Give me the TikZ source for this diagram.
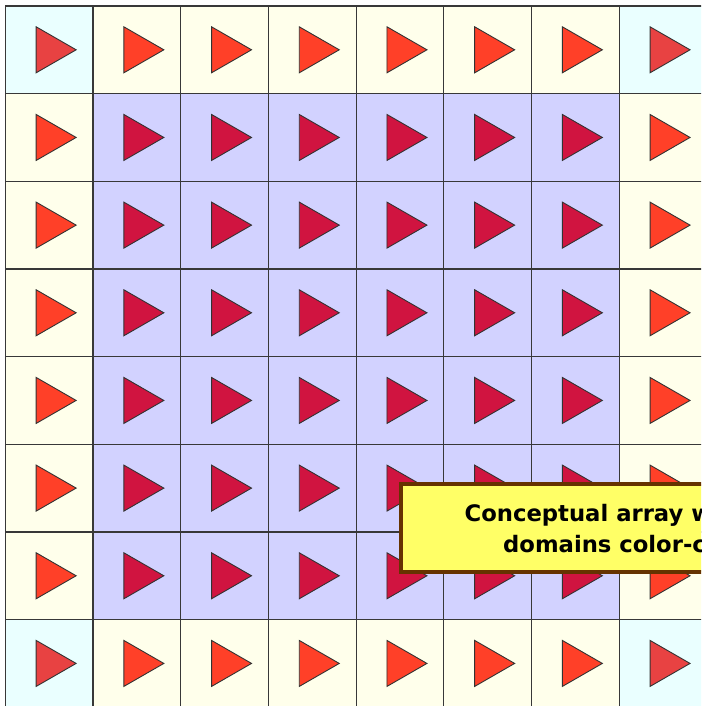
\documentclass[tikz,border=0pt]{standalone}
\usepackage{fontspec}
\setmainfont{DejaVu Sans}
\definecolor{cornerbg}{HTML}{EAFFFF}
\definecolor{edgebg}{HTML}{FFFFEB}
\definecolor{innerbg}{HTML}{D2D2FF}
\definecolor{cornertri}{HTML}{E84242}
\definecolor{edgetri}{HTML}{FF4028}
\definecolor{innertri}{HTML}{D01440}
\definecolor{notefill}{HTML}{FFFF66}
\definecolor{noteedge}{HTML}{663300}
\tikzset{
  gridline/.style={draw=black!78, line width=1.2pt},
  tri/.style={draw=black!80, line width=0.9pt, line join=miter},
  notebox/.style={fill=notefill, draw=noteedge, line width=4pt},
  notetext/.style={font=\bfseries\fontsize{22.7}{30}\selectfont, text=black, inner sep=0pt, anchor=base west}
}
\begin{document}
\begin{tikzpicture}[x=1pt,y=-1pt]
\useasboundingbox (0,0) rectangle (701,706);
\clip (0,0) rectangle (701,706);
\fill[white] (0,0) rectangle (701,706);
% cell backgrounds
\foreach \i in {0,...,7}{
  \foreach \j in {0,...,7}{
    \pgfmathsetmacro{\xa}{5.3+87.7*\i}
    \pgfmathsetmacro{\ya}{6+87.66*\j}
    \pgfmathtruncatemacro{\bi}{(\i==0 || \i==7) ? 1 : 0}
    \pgfmathtruncatemacro{\bj}{(\j==0 || \j==7) ? 1 : 0}
    \pgfmathtruncatemacro{\kind}{\bi+\bj}
    \ifcase\kind
      \def\bg{innerbg}\or\def\bg{edgebg}\or\def\bg{cornerbg}\fi
    \fill[\bg] (\xa,\ya) rectangle ++(87.7,87.66);
  }
}
% grid lines
\foreach \k in {0,...,8}{
  \draw[gridline] (5.3+87.7*\k,6) -- (5.3+87.7*\k,707.3);
  \draw[gridline] (5.3,6+87.66*\k) -- (706.9,6+87.66*\k);
}
% triangles
\foreach \i in {0,...,7}{
  \foreach \j in {0,...,7}{
    \pgfmathtruncatemacro{\bi}{(\i==0 || \i==7) ? 1 : 0}
    \pgfmathtruncatemacro{\bj}{(\j==0 || \j==7) ? 1 : 0}
    \pgfmathtruncatemacro{\kind}{\bi+\bj}
    \ifcase\kind
      \def\tc{innertri}\or\def\tc{edgetri}\or\def\tc{cornertri}\fi
    \coordinate (c\i\j) at (5.3+87.7*\i+43.85,6+87.66*\j+43.8);
    \path[tri, fill=\tc] ([shift={(-13,-23)}]c\i\j) -- ([shift={(27,0)}]c\i\j) -- ([shift={(-13,23)}]c\i\j) -- cycle;
  }
}
\path[notebox] (401.3,484) rectangle (760,572);
\node[notetext] (line1) at (464.5,521.8) {Conceptual array with boundary};
\node[notetext] (line2) at (503,552.5) {domains color-coded};
\end{tikzpicture}
\end{document}
